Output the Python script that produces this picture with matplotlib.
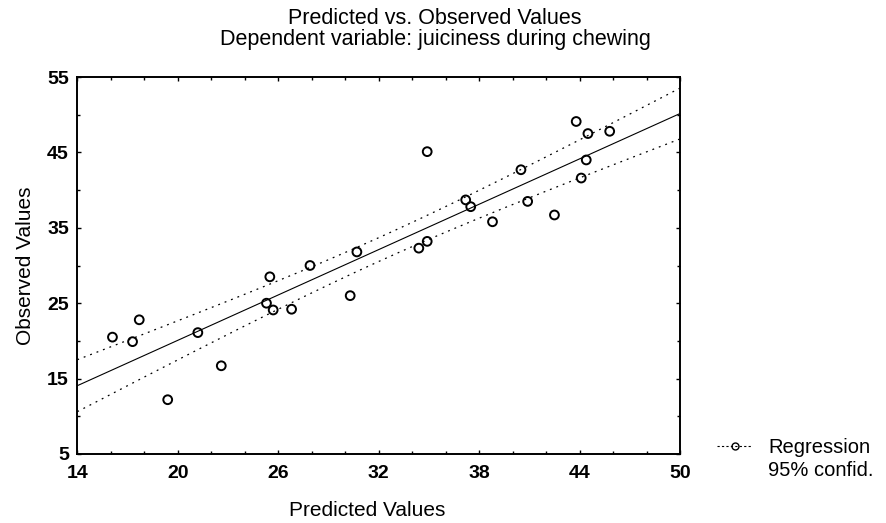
import numpy as np
import matplotlib.pyplot as plt
from matplotlib.lines import Line2D
from matplotlib.ticker import MultipleLocator

plt.rcParams['font.family'] = ['Liberation Sans', 'DejaVu Sans']

# values
predicted = [16.1, 17.3, 17.7, 19.4, 21.2, 22.6, 25.5, 25.3, 25.7, 26.8,
             27.9, 30.3, 30.7, 34.9, 34.4, 34.9, 37.2, 37.5, 38.8, 40.5,
             40.9, 42.5, 43.8, 44.5, 45.8, 44.4, 44.1]
observed = [20.5, 19.9, 22.8, 12.2, 21.1, 16.7, 28.5, 25.0, 24.1, 24.2,
            30.0, 26.0, 31.8, 45.1, 32.3, 33.2, 38.7, 37.8, 35.8, 42.7,
            38.5, 36.7, 49.1, 47.5, 47.8, 44.0, 41.6]
x_ticks = [14, 20, 26, 32, 38, 44, 50]
y_ticks = [5, 15, 25, 35, 45, 55]

x = np.array(predicted)
y = np.array(observed)
n = len(x)

# regression line + 95% confidence band of the mean
b, a = np.polyfit(x, y, 1)
resid = y - (a + b * x)
s = np.sqrt(np.sum(resid ** 2) / (n - 2))
sxx = np.sum((x - x.mean()) ** 2)
t = 2.06
xs = np.linspace(14, 50, 200)
fit = a + b * xs
half = t * s * np.sqrt(1 / n + (xs - x.mean()) ** 2 / sxx)

fig = plt.figure(figsize=(8.87, 5.23), dpi=100)
ax = fig.add_axes([77.3 / 887, 1 - 454 / 523, (680 - 77.3) / 887, (454 - 77) / 523])

ax.plot(xs, fit, color='black', lw=0.8)
ax.plot(xs, fit + half, color='black', lw=0.9, ls=(0, (1.5, 4)))
ax.plot(xs, fit - half, color='black', lw=0.9, ls=(0, (1.5, 4)))
ax.scatter(x, y, s=40, facecolors='none', edgecolors='black', linewidths=1.4, zorder=3)

ax.set_xlim(14, 50)
ax.set_ylim(5, 55)
ax.set_xticks(x_ticks)
ax.set_yticks(y_ticks)
ax.xaxis.set_minor_locator(MultipleLocator(2))
ax.yaxis.set_minor_locator(MultipleLocator(5))
ax.tick_params(which='both', direction='in', length=3, width=1, top=True, right=True,
               labelsize=14)
ax.tick_params(which='minor', length=2)
ax.tick_params(axis='x', pad=8)
ax.tick_params(axis='y', pad=6)
for lab in ax.get_xticklabels() + ax.get_yticklabels():
    lab.set_fontweight('bold')
for sp in ax.spines.values():
    sp.set_linewidth(1.4)

fig.text(435 / 887, 1 - 18 / 523, 'Predicted vs. Observed Values', ha='center', va='center', fontsize=15.5)
fig.text(435 / 887, 1 - 40 / 523, 'Dependent variable: juiciness during chewing', ha='center', va='center', fontsize=15.5)
fig.text(367 / 887, 1 - 511 / 523, 'Predicted Values', ha='center', va='center', fontsize=15)
fig.text(26 / 887, 1 - 266 / 523, 'Observed Values', ha='center', va='center', rotation=90, fontsize=15)

handles = [Line2D([], [], color='black', lw=0.8, ls=(0, (2, 2)), marker='o', markersize=5,
                  markerfacecolor='none'),
           Line2D([], [], color='none')]
fig.legend(handles, ['Regression', '95% confid.'], loc='center left',
           bbox_to_anchor=(717 / 887, 1 - 459 / 523), frameon=False, fontsize=14.5,
           borderpad=0, borderaxespad=0, handlelength=1.75, labelspacing=0.15,
           handletextpad=0.8)

fig.savefig('out.png', dpi=100)
